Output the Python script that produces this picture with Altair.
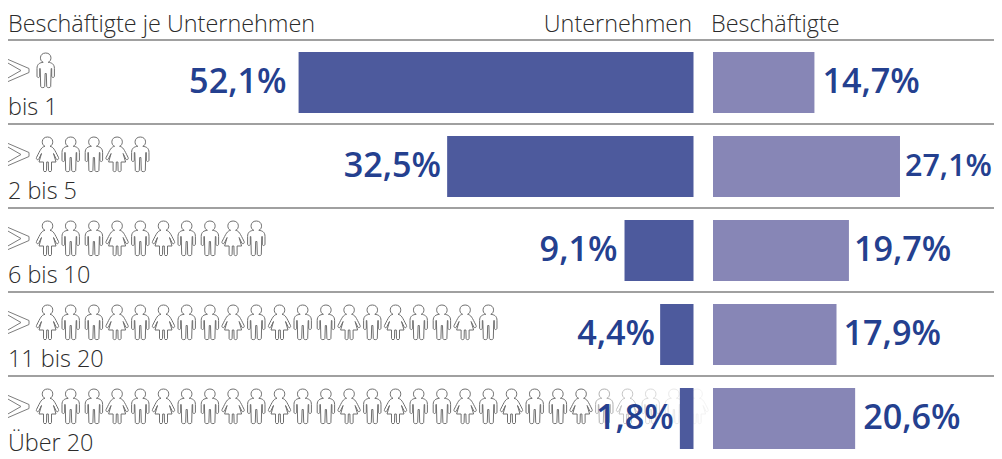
import re
import altair as alt
import pandas as pd

groups = ["bis 1", "2 bis 5", "6 bis 10", "11 bis 20", "Über 20"]
unternehmen = [52.1, 32.5, 9.1, 4.4, 1.8]
beschaeftigte = [14.7, 27.1, 19.7, 17.9, 20.6]
unternehmen_labels = ["52,1%", "32,5%", "9,1%", "4,4%", "1,8%"]
beschaeftigte_labels = ["14,7%", "27,1%", "19,7%", "17,9%", "20,6%"]
icon_counts = [1, 5, 10, 20, 29]
icon_pattern = ["F", "M", "M", "F", "M"]
faded_icons = {24: 0.55, 25: 0.4, 26: 0.25, 27: 0.15, 28: 0.08}

LEFT_DX = [-12, -6, -7, -5, -6]
RIGHT_DX = [8, 5, 5, 7, 8]
RIGHT_SIZE = [34.2, 30.5, 34.2, 34.2, 34.2]
BLUE = "#24408f"
DARK = "#2b2b2b"
LIGHT_FONT = "Open Sans"


def unit(path):
    return re.sub(r"-?\d+(?:\.\d+)?", lambda m: f"{float(m.group()) / 17.5:.4f}", path)


HEAD = "M-2.5 -8.2 C-6.5 -9.5 -6.5 -17.5 0 -17.5 C6.5 -17.5 6.5 -9.5 2.5 -8.2 "
MALE = unit(HEAD +
            "C6 -7.8 8.7 -6.5 8.7 -2 L8.7 5.5 C8.7 7.5 6 7.5 6 5.5 L6 -2 "
            "L5.5 -2 L5 16 C5 17.5 1 17.5 1 16 L0.6 3 L-0.6 3 L-1 16 C-1 17.5 -5 17.5 -5 16 "
            "L-5.5 -2 L-6 -2 L-6 5.5 C-6 7.5 -8.7 7.5 -8.7 5.5 L-8.7 -2 C-8.7 -6.5 -6 -7.8 -2.5 -8.2 Z")
FEMALE = unit(HEAD +
              "C6 -7.5 7 -5 11 3 C11.8 5 9.5 6 8.7 4.5 L6 -1 L8.5 7.5 L4 7.5 L4 16 C4 17.5 1 17.5 1 16 "
              "L0.8 7.5 L-0.8 7.5 L-1 16 C-1 17.5 -4 17.5 -4 16 L-4 7.5 L-8.5 7.5 L-6 -1 "
              "L-8.7 4.5 C-9.5 6 -11.8 5 -11 3 C-7 -5 -6 -7.5 -2.5 -8.2 Z")
CHEVRON = unit("M-11 -11.5 L11 -2 L11 2 L-11 11.5 L-11 8 L3 0 L-11 -8 Z")

rows = pd.DataFrame({
    "row": range(5), "group": groups,
    "u": unternehmen, "b": beschaeftigte,
    "ul": unternehmen_labels, "bl": beschaeftigte_labels,
})
icons = pd.DataFrame([
    {"row": r, "i": i, "kind": icon_pattern[i % 5] if n > 1 else "M",
     "op": faded_icons.get(i, 1.0)}
    for r, n in enumerate(icon_counts) for i in range(n)
])

Y = alt.Scale(domain=[0, 5], range=[32, 452], padding=0)
XL = alt.Scale(domain=[0, 100], range=[685.5, -72.5], padding=0)
XR = alt.Scale(domain=[0, 100], range=[705, 1395], padding=0)
XI = alt.Scale(domain=[0, 30], range=[39.5, 735.5], padding=0)


def y(field):
    return alt.Y(field, type="quantitative", scale=Y, axis=None)


base = alt.Chart(rows)

rules = base.mark_rule(color="#808080", strokeWidth=1.5).encode(
    y=y("row"), x=alt.value(0), x2=alt.value(986))

chevrons = base.transform_calculate(yc=f"datum.row + {30.5 / 84}").mark_point(
    shape=CHEVRON, size=1225, filled=False, stroke="#7d7d7d", strokeWidth=1, opacity=1
).encode(y=y("yc"), x=alt.value(10))

icon_layers = []
for kind, shape in (("M", MALE), ("F", FEMALE)):
    d = icons[icons.kind == kind]
    for sub, off in ((d[d.row > 0], 0), (d[d.row == 0], -1.8)):
        if sub.empty:
            continue
        icon_layers.append(
            alt.Chart(sub).transform_calculate(yc=f"datum.row + {30.5 / 84}").mark_point(
                shape=shape, size=1225, filled=False, stroke="#6f6f6f", strokeWidth=1, xOffset=off
            ).encode(
                y=y("yc"),
                x=alt.X("i:Q", scale=XI, axis=None),
                opacity=alt.Opacity("op:Q", scale=None, legend=None),
            )
        )

mid = f"datum.row + {42.5 / 84}"
bars_l = base.transform_calculate(yc=mid, z="0").mark_bar(height=61, color="#4d5a9d").encode(
    y=y("yc"), x=alt.X("u:Q", scale=XL, axis=None), x2=alt.X2("z:Q"))
bars_r = base.transform_calculate(yc=mid, z="0").mark_bar(height=61, color="#8786b6").encode(
    y=y("yc"), x=alt.X("b:Q", scale=XR, axis=None), x2=alt.X2("z:Q"))

txt = []
for r in range(5):
    d = rows[rows.row == r]
    txt.append(alt.Chart(d).transform_calculate(yc=mid).mark_text(
        align="right", baseline="middle", dx=LEFT_DX[r], font="Open Sans", fontWeight=600,
        fontSize=34.2, color=BLUE
    ).encode(y=y("yc"), x=alt.X("u:Q", scale=XL, axis=None), text="ul:N"))
    txt.append(alt.Chart(d).transform_calculate(yc=mid).mark_text(
        align="left", baseline="middle", dx=RIGHT_DX[r], font="Open Sans", fontWeight=600,
        fontSize=RIGHT_SIZE[r], color=BLUE
    ).encode(y=y("yc"), x=alt.X("b:Q", scale=XR, axis=None), text="bl:N"))

row_labels = base.transform_calculate(yc=f"datum.row + {74.5 / 84}").mark_text(
    align="left", baseline="alphabetic", font=LIGHT_FONT, fontWeight=300, fontSize=23.4, color=DARK
).encode(y=y("yc"), x=alt.value(0), text="group:N")

headers = pd.DataFrame({"t": ["Beschäftigte je Unternehmen", "Unternehmen", "Beschäftigte"]})
hstyle = dict(baseline="alphabetic", font=LIGHT_FONT, fontWeight=300, fontSize=23.4, color=DARK)
h1 = alt.Chart(headers.iloc[[0]]).mark_text(align="left", **hstyle).encode(
    x=alt.value(0), y=alt.value(24), text="t:N")
h2 = alt.Chart(headers.iloc[[1]]).mark_text(align="right", **hstyle).encode(
    x=alt.value(684), y=alt.value(24), text="t:N")
h3 = alt.Chart(headers.iloc[[2]]).mark_text(align="left", **hstyle).encode(
    x=alt.value(703), y=alt.value(24), text="t:N")

chart = alt.layer(
    rules, chevrons, *icon_layers, bars_l, bars_r, *txt, row_labels, h1, h2, h3
).resolve_scale(x="independent").properties(
    width=986, height=451, padding=0,
    autosize=alt.AutoSizeParams(type="none"),
).configure_view(stroke=None)

chart.save("out.html", embed_options={"renderer": "svg", "actions": False})
